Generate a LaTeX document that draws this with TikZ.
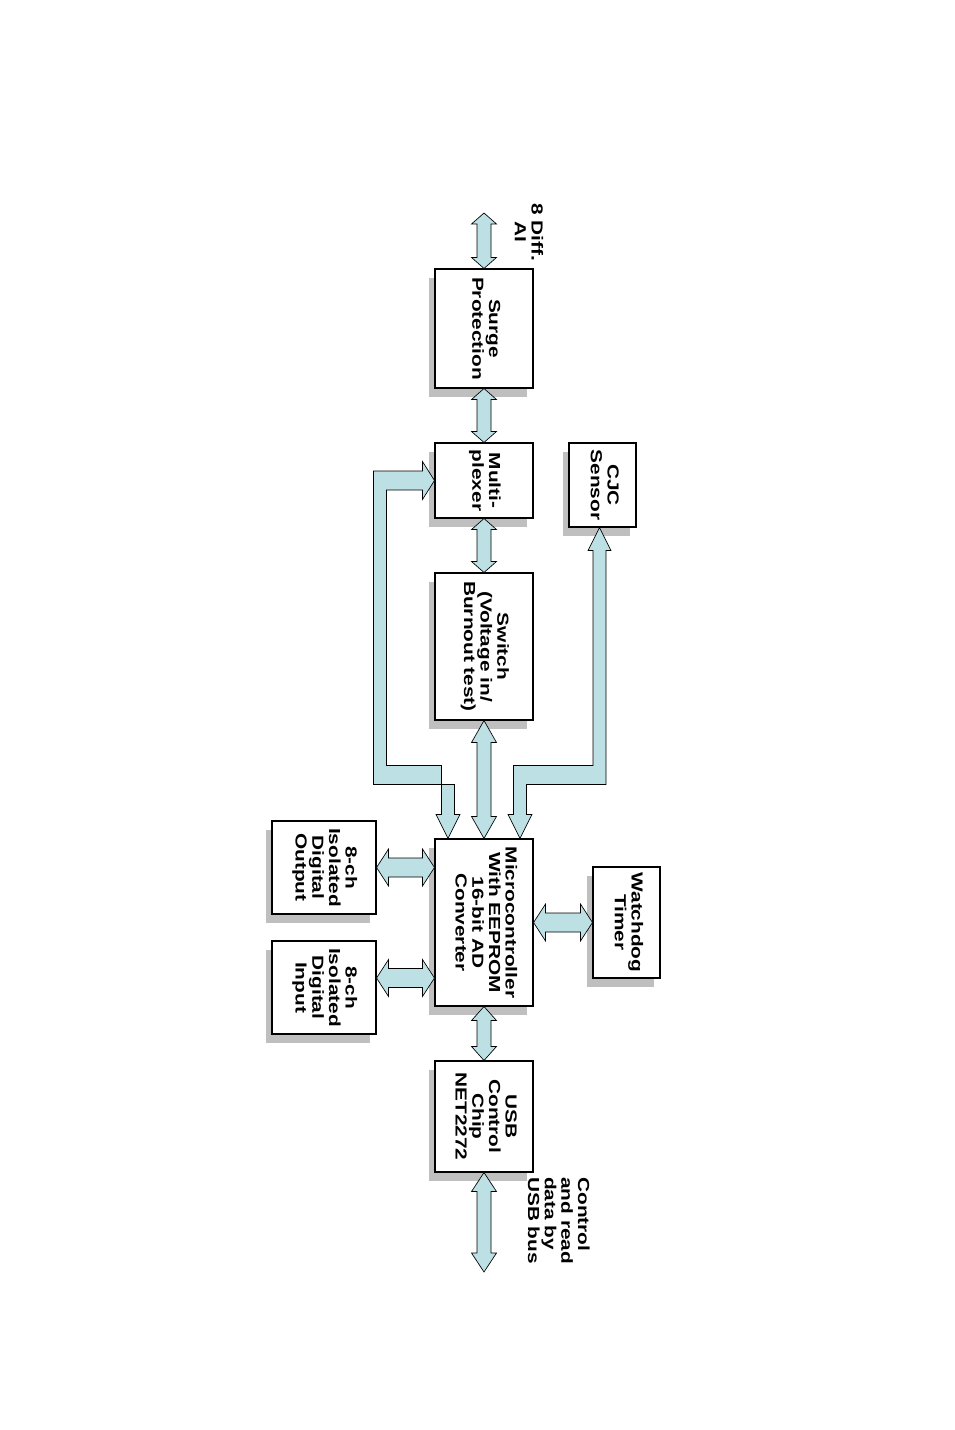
\documentclass[tikz,border=0pt]{standalone}
\usepackage{fontspec}
\newfontfamily\lblfont{Liberation Sans}[FakeStretch=1.3]
\usetikzlibrary{calc, shadows}
\definecolor{arrowblue}{RGB}{188,224,228}
% rotated text block
\newcommand{\vtext}[1]{\rotatebox{-90}{\begin{tabular}{@{}c@{}}#1\end{tabular}}}
% fat double arrow, vertical: #2 upper end, #3 lower end, #1 head length
\newcommand{\fatv}[3][12]{%
  \draw[fat] (#2) -- ($(#2)+(-12.5,#1)$) -- ($(#2)+(-7,#1)$) -- ($(#3)+(-7,-#1)$)
    -- ($(#3)+(-12.5,-#1)$) -- (#3) -- ($(#3)+(12.5,-#1)$) -- ($(#3)+(7,-#1)$)
    -- ($(#2)+(7,#1)$) -- ($(#2)+(12.5,#1)$) -- cycle;}
% fat double arrow, horizontal: #2 left end, #3 right end, #1 head length
\newcommand{\fath}[3][12]{%
  \draw[fat] (#2) -- ($(#2)+(#1,-18.5)$) -- ($(#2)+(#1,-9.5)$) -- ($(#3)+(-#1,-9.5)$)
    -- ($(#3)+(-#1,-18.5)$) -- (#3) -- ($(#3)+(-#1,18.5)$) -- ($(#3)+(-#1,9.5)$)
    -- ($(#2)+(#1,9.5)$) -- ($(#2)+(#1,18.5)$) -- cycle;}

\begin{document}
\begin{tikzpicture}[x=0.75pt, y=-0.75pt,
  blk/.style 2 args={draw, line width=0.8pt, fill=white, inner sep=0pt,
    minimum width=#1*0.75pt, minimum height=#2*0.75pt,
    font=\lblfont\bfseries\fontsize{12}{12.5}\selectfont,
    drop shadow={shadow xshift=-4.5pt, shadow yshift=-7pt, fill=black!25, opacity=1, draw=none}},
  fat/.style={draw=black, line width=0.5pt, fill=arrowblue, line join=miter},
  lbl/.style={rotate=-90, inner sep=0pt, font=\lblfont\bfseries\fontsize{12}{12.5}\selectfont}]
\fill[white] (0,0) rectangle (954,1430);
% Main column
\node[blk={98}{119}] (surge) at (484,328.5) {\vtext{Surge\\Protection}};
\node[blk={98}{75}] (mux) at (484,480.5) {\vtext{Multi-\\plexer}};
\node[blk={98}{147}] (switch) at (484,646.5) {\vtext{Switch\\(Voltage in/\\Burnout test)}};
\node[blk={98}{167}] (micro) at (484,922.5) {\vtext{Microcontroller\\With EEPROM\\16-bit AD\\Converter}};
\node[blk={98}{111}] (usb) at (484,1116.5) {\vtext{USB\\Control\\Chip\\NET2272}};
% Side blocks
\node[blk={67}{84}] (cjc) at (602.5,485) {\vtext{CJC\\Sensor}};
\node[blk={67}{111}] (wdog) at (626.5,922.5) {\vtext{Watchdog\\Timer}};
\node[blk={104}{93}] (dout) at (324,867.5) {\vtext{8-ch\\Isolated\\Digital\\Output}};
\node[blk={104}{93}] (din) at (324,987.5) {\vtext{8-ch\\Isolated\\Digital\\Input}};
% Outside labels
\node[lbl, align=center] (ailbl) at (529,232) {8 Diff.\\AI};
\node[lbl, align=left, anchor=north west] (buslbl) at (590,1177) {Control\\and read\\data by\\USB bus};
% Free ends and bends
\coordinate (ain) at (484,213);
\coordinate (usbbus) at (484,1272);
\coordinate (la) at (380,775);
\coordinate (lt) at ($(micro.north)+(-36,0)$);
\coordinate (lt2) at ($(micro.north)+(36,0)$);
\coordinate (rt) at ($(cjc.south)+(-3,0)$);
\coordinate (ra) at (rt |- la);
\coordinate (doutp) at (dout.east);
\coordinate (dinp) at ($(din.east)+(0,-9.5)$);
\coordinate (mdout) at (micro.west |- doutp);
\coordinate (mdin) at (micro.west |- dinp);
% Straight arrows
\fatv[11]{ain}{surge.north}
\fatv[11]{surge.south}{mux.north}
\fatv[11]{mux.south}{switch.north}
\fatv[22]{switch.south}{micro.north}
\fatv[14]{micro.south}{usb.north}
\fatv[19]{usb.south}{usbbus}
\fath{doutp}{mdout}
\fath{dinp}{mdin}
\fath{micro.east}{wdog.west}
% Bent arrows
\draw[fat] (mux.west) -- ($(mux.west)+(-12,-19)$) -- ($(mux.west)+(-12,-9.5)$)
  -- ($(la |- mux.west)+(-6.5,-9.5)$) -- ($(la)+(-6.5,9.5)$) -- ($(la -| lt)+(6.5,9.5)$)
  -- ($(lt)+(6.5,-24)$) -- ($(lt)+(12,-24)$) -- (lt) -- ($(lt)+(-12,-24)$)
  -- ($(lt)+(-6.5,-24)$) -- ($(la -| lt)+(-6.5,-9.5)$) -- ($(la)+(6.5,-9.5)$)
  -- ($(la |- mux.west)+(6.5,9.5)$) -- ($(mux.west)+(-12,9.5)$) -- ($(mux.west)+(-12,19)$) -- cycle;
\draw[fat] (lt2) -- ($(lt2)+(-12,-24)$) -- ($(lt2)+(-6.5,-24)$)
  -- ($(ra -| lt2)+(-6.5,-9.5)$) -- ($(ra)+(-6.5,-9.5)$) -- ($(rt)+(-6.5,23)$)
  -- ($(rt)+(-11.5,23)$) -- (rt) -- ($(rt)+(11.5,23)$) -- ($(rt)+(6.5,23)$)
  -- ($(ra)+(6.5,9.5)$) -- ($(ra -| lt2)+(6.5,9.5)$) -- ($(lt2)+(6.5,-24)$)
  -- ($(lt2)+(12,-24)$) -- cycle;
\end{tikzpicture}
\end{document}
